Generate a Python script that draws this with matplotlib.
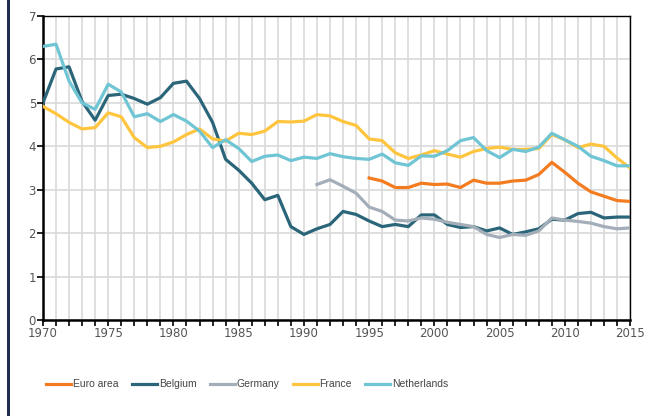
import matplotlib
matplotlib.use('Agg')
import matplotlib.pyplot as plt
from matplotlib.patches import Rectangle

years = list(range(1970, 2016))

belgium = [5.0, 5.78, 5.83, 5.03, 4.6, 5.17, 5.2, 5.1, 4.97, 5.12,
           5.45, 5.5, 5.1, 4.55, 3.7, 3.45, 3.15, 2.77, 2.87, 2.15,
           1.97, 2.1, 2.2, 2.5, 2.43, 2.28, 2.15, 2.2, 2.15, 2.42,
           2.42, 2.2, 2.13, 2.15, 2.05, 2.12, 1.97, 2.03, 2.1, 2.32,
           2.3, 2.45, 2.48, 2.35, 2.37, 2.37]
france = [4.92, 4.75, 4.55, 4.4, 4.43, 4.77, 4.68, 4.2, 3.97, 4.0,
          4.1, 4.27, 4.4, 4.17, 4.12, 4.3, 4.27, 4.35, 4.57, 4.56,
          4.58, 4.73, 4.7, 4.57, 4.48, 4.17, 4.13, 3.85, 3.72, 3.8,
          3.9, 3.82, 3.75, 3.88, 3.95, 3.98, 3.93, 3.93, 3.95, 4.27,
          4.15, 3.97, 4.05, 4.0, 3.73, 3.5]
netherlands = [6.3, 6.35, 5.5, 5.0, 4.85, 5.43, 5.25, 4.68, 4.75, 4.57,
               4.73, 4.58, 4.35, 3.97, 4.15, 3.95, 3.65, 3.77, 3.8, 3.67,
               3.75, 3.72, 3.83, 3.76, 3.72, 3.7, 3.82, 3.62, 3.56, 3.78,
               3.77, 3.9, 4.13, 4.2, 3.9, 3.74, 3.93, 3.88, 3.98, 4.3,
               4.15, 4.0, 3.77, 3.67, 3.55, 3.55]

germany_years = list(range(1991, 2016))
germany = [3.12, 3.23, 3.08, 2.92, 2.6, 2.5, 2.3, 2.28, 2.35, 2.32,
           2.25, 2.2, 2.15, 1.97, 1.9, 1.97, 1.95, 2.05, 2.35, 2.3,
           2.27, 2.23, 2.15, 2.1, 2.12]

euro_years = list(range(1995, 2016))
euro_area = [3.27, 3.2, 3.05, 3.05, 3.15, 3.12, 3.13, 3.05, 3.22, 3.15,
             3.15, 3.2, 3.22, 3.35, 3.63, 3.4, 3.15, 2.95, 2.85, 2.75,
             2.73]

fig = plt.figure(figsize=(6.55, 4.16), dpi=100)
ax = fig.add_axes([0.0656, 0.2308, 0.8964, 0.7307])

lw = 2.3
ax.plot(euro_years, euro_area, color='#F47C20', lw=lw, label='Euro area', zorder=3)
ax.plot(years, belgium, color='#2B6579', lw=lw, label='Belgium', zorder=3)
ax.plot(germany_years, germany, color='#A4AEB9', lw=lw, label='Germany', zorder=3)
ax.plot(years, france, color='#FFC53E', lw=lw, label='France', zorder=3)
ax.plot(years, netherlands, color='#6FC5D3', lw=lw, label='Netherlands', zorder=3)

ax.set_xlim(1970, 2015)
ax.set_ylim(0, 7)
ax.set_xticks(range(1970, 2016, 5))
ax.set_xticks(years, minor=True)
ax.set_yticks(range(0, 8))
ax.grid(True, which='both', axis='x', color='#d9d9d9', lw=1.2, zorder=0)
ax.grid(True, which='major', axis='y', color='#d9d9d9', lw=1.2, zorder=0)
ax.set_axisbelow(True)

for side in ['left', 'bottom']:
    ax.spines[side].set_linewidth(1.8)
for side in ['top', 'right']:
    ax.spines[side].set_linewidth(1.0)

ax.tick_params(axis='both', which='both', direction='out', length=4, width=1.2,
               labelsize=8.5, labelcolor='#555555', pad=1)
ax.tick_params(axis='x', which='minor', length=4)

leg = ax.legend(loc='center left', bbox_to_anchor=(-0.01, -0.212), ncol=5, frameon=False,
                prop={'family': 'Liberation Sans', 'size': 7.5},
                handlelength=2.4, handletextpad=0.15, columnspacing=1.3,
                labelcolor='#444444')

fig.add_artist(Rectangle((0.011, 0), 0.005, 1, transform=fig.transFigure,
                         color='#1F2D4E', lw=0))

fig.savefig('out.png', dpi=100)
